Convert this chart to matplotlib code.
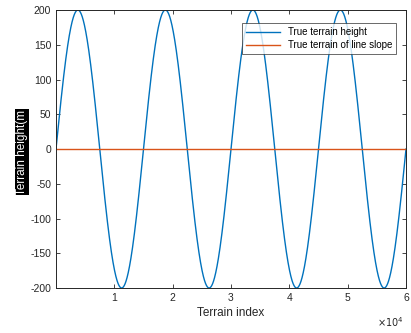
import numpy as np
import matplotlib
matplotlib.use("Agg")
import matplotlib.pyplot as plt

# Data: sinusoidal terrain
amplitude = 200.0        # m
period = 15000.0         # terrain index units
x_max = 60000
slope_level = [0.0, 0.0]
slope_x = [0, 60000]

x = np.linspace(0, x_max, 3001)
y = amplitude * np.sin(2 * np.pi * x / period)

xticks = [10000, 20000, 30000, 40000, 50000, 60000]
xticklabels = ["1", "2", "3", "4", "5", "6"]
yticks = [-200, -150, -100, -50, 0, 50, 100, 150, 200]

plt.rcParams['font.family'] = ['Liberation Sans', 'DejaVu Sans']
plt.rcParams['axes.unicode_minus'] = False
fig = plt.figure(figsize=(4.11, 3.33), dpi=100)
ax = fig.add_axes([56/411, 1 - 288/333, 350/411, 278/333])

ax.plot(x, y, color='#0072BD', lw=1.0, label='True terrain height')
ax.plot(slope_x, slope_level, color='#D95319', lw=1.0, label='True terrain of line slope')

ax.set_xlim(0, x_max)
ax.set_ylim(-200, 200)
ax.set_xticks(xticks)
ax.set_xticklabels(xticklabels)
ax.set_yticks(yticks)
ax.tick_params(direction='in', top=True, right=True, labelsize=7.5, length=3,
               colors='#262626', width=0.6)
for s in ax.spines.values():
    s.set_linewidth(0.7)
    s.set_color('#262626')

ax.set_xlabel('Terrain index', fontsize=8.5, color='#262626', labelpad=3)
ax.text(22/411, 1 - 152/333, 'Terrain height(m', rotation=90, transform=fig.transFigure,
        ha='center', va='center', fontsize=8.5, color='white',
        bbox=dict(facecolor='black', edgecolor='none', pad=0.5))
fig.text(404/411, 1 - 322/333, r'$\times10^4$', ha='right', va='center',
         fontsize=7, color='#262626')

leg = ax.legend(loc='upper right', bbox_to_anchor=(0.985, 0.97), fontsize=7,
                frameon=True, fancybox=False, edgecolor='#262626',
                handlelength=3.5, borderpad=0.4, labelspacing=0.3)
leg.get_frame().set_linewidth(0.6)

fig.savefig('out.png', dpi=100)
